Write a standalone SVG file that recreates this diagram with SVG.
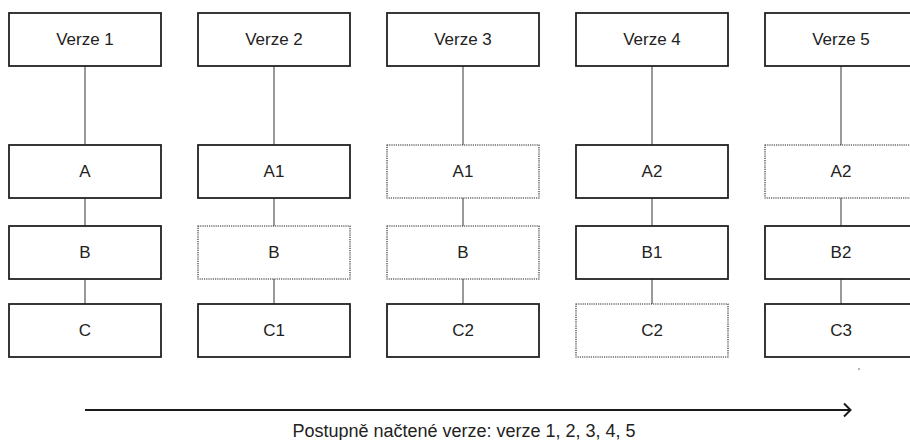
<svg xmlns="http://www.w3.org/2000/svg" width="910" height="440" viewBox="0 0 910 440">
<style>
.box{fill:#fff;stroke:#222;stroke-width:1.8}
.dot{fill:#fff;stroke:#222;stroke-width:1.1;stroke-dasharray:1.2 1}
.lbl{font-family:"Liberation Sans",Arial,sans-serif;font-size:17px;fill:#222;text-anchor:middle}
.con{stroke:#777;stroke-width:1.5;fill:none}
</style>
<rect width="910" height="440" fill="#fff"/>
<g id="connectors">
<line class="con" x1="85" y1="66" x2="85" y2="145"/><line class="con" x1="85" y1="198" x2="85" y2="226"/><line class="con" x1="85" y1="279" x2="85" y2="304"/>
<line class="con" x1="274" y1="66" x2="274" y2="145"/><line class="con" x1="274" y1="198" x2="274" y2="226"/><line class="con" x1="274" y1="279" x2="274" y2="304"/>
<line class="con" x1="463" y1="66" x2="463" y2="145"/><line class="con" x1="463" y1="198" x2="463" y2="226"/><line class="con" x1="463" y1="279" x2="463" y2="304"/>
<line class="con" x1="652" y1="66" x2="652" y2="145"/><line class="con" x1="652" y1="198" x2="652" y2="226"/><line class="con" x1="652" y1="279" x2="652" y2="304"/>
<line class="con" x1="841" y1="66" x2="841" y2="145"/><line class="con" x1="841" y1="198" x2="841" y2="226"/><line class="con" x1="841" y1="279" x2="841" y2="304"/>
<line x1="85" y1="410" x2="850" y2="410" stroke="#1a1a1a" stroke-width="2"/>
<polyline points="844,403.5 850.5,410 844,416.5" fill="none" stroke="#1a1a1a" stroke-width="2"/>
</g>
<g id="v1"><rect class="box" x="9" y="13" width="152" height="53"/><text class="lbl" x="85" y="45">Verze 1</text></g>
<g id="v1a"><rect class="box" x="9" y="145" width="152" height="53"/><text class="lbl" x="85" y="177">A</text></g>
<g id="v1b"><rect class="box" x="9" y="226" width="152" height="53"/><text class="lbl" x="85" y="258">B</text></g>
<g id="v1c"><rect class="box" x="9" y="304" width="152" height="53"/><text class="lbl" x="85" y="336">C</text></g>

<g id="v2"><rect class="box" x="198" y="13" width="152" height="53"/><text class="lbl" x="274" y="45">Verze 2</text></g>
<g id="v2a"><rect class="box" x="198" y="145" width="152" height="53"/><text class="lbl" x="274" y="177">A1</text></g>
<g id="v2b"><rect class="dot" x="198" y="226" width="152" height="53"/><text class="lbl" x="274" y="258">B</text></g>
<g id="v2c"><rect class="box" x="198" y="304" width="152" height="53"/><text class="lbl" x="274" y="336">C1</text></g>

<g id="v3"><rect class="box" x="387" y="13" width="152" height="53"/><text class="lbl" x="463" y="45">Verze 3</text></g>
<g id="v3a"><rect class="dot" x="387" y="145" width="152" height="53"/><text class="lbl" x="463" y="177">A1</text></g>
<g id="v3b"><rect class="dot" x="387" y="226" width="152" height="53"/><text class="lbl" x="463" y="258">B</text></g>
<g id="v3c"><rect class="box" x="387" y="304" width="152" height="53"/><text class="lbl" x="463" y="336">C2</text></g>

<g id="v4"><rect class="box" x="576" y="13" width="152" height="53"/><text class="lbl" x="652" y="45">Verze 4</text></g>
<g id="v4a"><rect class="box" x="576" y="145" width="152" height="53"/><text class="lbl" x="652" y="177">A2</text></g>
<g id="v4b"><rect class="box" x="576" y="226" width="152" height="53"/><text class="lbl" x="652" y="258">B1</text></g>
<g id="v4c"><rect class="dot" x="576" y="304" width="152" height="53"/><text class="lbl" x="652" y="336">C2</text></g>

<g id="v5"><rect class="box" x="765" y="13" width="152" height="53"/><text class="lbl" x="841" y="45">Verze 5</text></g>
<g id="v5a"><rect class="dot" x="765" y="145" width="152" height="53"/><text class="lbl" x="841" y="177">A2</text></g>
<g id="v5b"><rect class="box" x="765" y="226" width="152" height="53"/><text class="lbl" x="841" y="258">B2</text></g>
<g id="v5c"><rect class="box" x="765" y="304" width="152" height="53"/><text class="lbl" x="841" y="336">C3</text></g>

<circle cx="859" cy="369" r="0.8" fill="#555"/>
<text x="464" y="436.5" font-family="'Liberation Sans',Arial,sans-serif" font-size="18" fill="#222" text-anchor="middle">Postupně načtené verze: verze 1, 2, 3, 4, 5</text>
</svg>
